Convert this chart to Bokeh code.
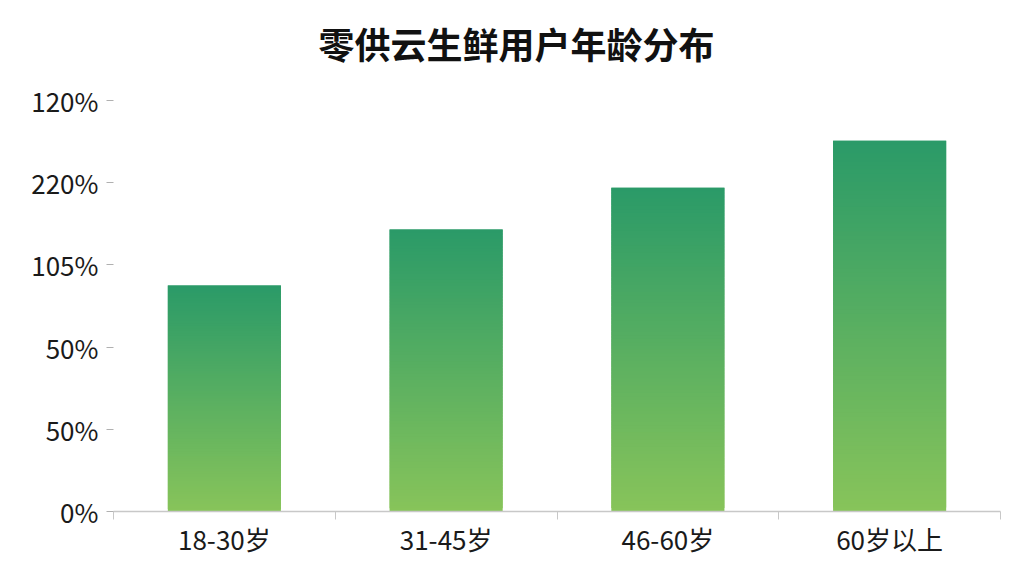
import numpy as np
from bokeh.plotting import figure
from bokeh.models import FixedTicker, Range1d, ColumnDataSource
from bokeh.core.properties import value
from bokeh.embed import file_html
from bokeh.resources import INLINE

title_text = "零供云生鲜用户年龄分布"
categories = ["18-30岁", "31-45岁", "46-60岁", "60岁以上"]
values = [55, 68.6, 78.8, 90.2]
tick_values = [0, 20, 40, 60, 80, 100]
tick_labels = ["0%", "50%", "50%", "105%", "220%", "120%"]

FONT = "Noto Sans CJK SC"
TOP_COLOR = np.array([0x2a, 0x9a, 0x68])
BOTTOM_COLOR = np.array([0x88, 0xc4, 0x5a])

px_per_unit = 82.2 / 20.0
frame_top, frame_bottom, frame_left, frame_right = 22, 511, 113, 1000
H = 560
frame_h = frame_bottom - frame_top
y_end = frame_h / px_per_unit
cat_px = (frame_right - frame_left) / len(categories)

p = figure(width=1008, height=H, output_backend="svg", toolbar_location=None,
           x_range=Range1d(0, len(categories)), y_range=Range1d(0, y_end),
           min_border_left=frame_left, min_border_right=1008 - frame_right,
           min_border_top=frame_top, min_border_bottom=H - frame_bottom)
p.outline_line_color = None
p.xgrid.grid_line_color = None
p.ygrid.grid_line_color = None
p.background_fill_color = "white"
p.border_fill_color = "white"

# gradient bars from stacked thin quads
N = 90
lefts, rights, bottoms, tops, colors = [], [], [], [], []
bar_w = 0.51
for i, v in enumerate(values):
    c = i + 0.5
    edges = np.linspace(0, v, N + 1)
    for k in range(N):
        t = (k + 0.5) / N
        col = BOTTOM_COLOR + (TOP_COLOR - BOTTOM_COLOR) * t
        lefts.append(c - bar_w / 2)
        rights.append(c + bar_w / 2)
        bottoms.append(edges[k])
        tops.append(edges[min(k + 2, N)])
        colors.append("#%02x%02x%02x" % tuple(int(round(x)) for x in col))
src = ColumnDataSource(dict(left=lefts, right=rights, bottom=bottoms, top=tops, color=colors))
p.quad(left="left", right="right", bottom="bottom", top="top", fill_color="color",
       line_color=None, source=src)

# title (centered on page)
p.text(x=[(516 - frame_left) / cat_px], y=[(frame_bottom - 42) / px_per_unit], text=[title_text],
       text_font=value(FONT), text_font_size="36px", text_font_style="bold",
       text_align="center", text_baseline="middle", text_color="#111111")

# x axis
xa = p.xaxis[0]
xa.ticker = FixedTicker(ticks=[i + 0.5 for i in range(len(categories))],
                        minor_ticks=list(range(len(categories) + 1)))
xa.major_label_overrides = {i + 0.5: c for i, c in enumerate(categories)}
xa.major_tick_line_color = None
xa.minor_tick_line_color = "#c8c8c8"
xa.minor_tick_out = 8
xa.minor_tick_in = 0
xa.axis_line_color = "#c8c8c8"
xa.axis_line_width = 1.5
xa.major_label_text_font = FONT
xa.major_label_text_font_size = "26px"
xa.major_label_text_color = "#1a1a1a"
xa.major_label_standoff = 0

# y axis
ya = p.yaxis[0]
ya.ticker = FixedTicker(ticks=tick_values, minor_ticks=[])
ya.major_label_overrides = {t: l for t, l in zip(tick_values, tick_labels)}
ya.axis_line_color = None
ya.major_tick_line_color = "#b0b0b0"
ya.major_tick_out = 7
ya.major_tick_in = 0
ya.minor_tick_line_color = None
ya.major_label_text_font = FONT
ya.major_label_text_font_size = "26px"
ya.major_label_text_color = "#1a1a1a"
ya.major_label_standoff = 8

open("out.html", "w").write(file_html(p, INLINE))
